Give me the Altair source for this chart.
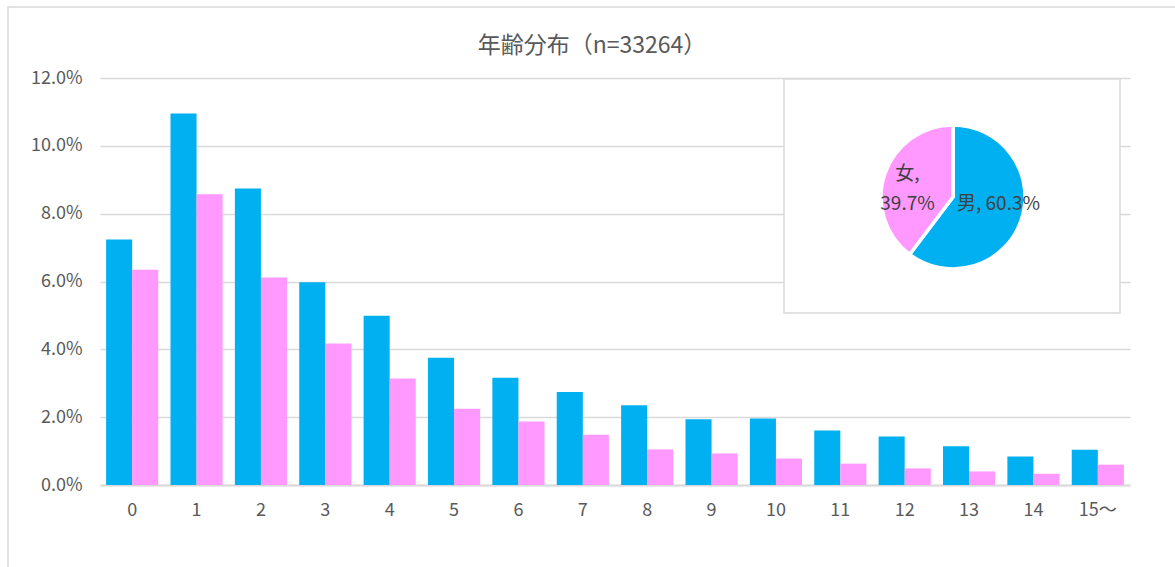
import altair as alt
import pandas as pd

# Age groups and share of cases by sex (fraction of all cases)
ages = ["0", "1", "2", "3", "4", "5", "6", "7", "8", "9",
        "10", "11", "12", "13", "14", "15～"]
male = [7.24, 10.95, 8.74, 5.98, 4.99, 3.75, 3.16, 2.74,
        2.35, 1.94, 1.96, 1.61, 1.43, 1.14, 0.84, 1.04]
female = [6.35, 8.57, 6.12, 4.17, 3.14, 2.25, 1.87, 1.48,
          1.05, 0.93, 0.78, 0.63, 0.49, 0.40, 0.33, 0.60]

sexes = ["男", "女"]
sex_share = [60.3, 39.7]
sex_labels = ["男, 60.3%", "女,\n39.7%"]
colors = ["#00B0F0", "#FF99FF"]
title_text = "年齢分布（n=33264）"

FONT = "Noto Sans CJK JP"
W, H = 1030, 407

bars_df = pd.DataFrame(
    [{"年齢": a, "性別": "男", "割合": v / 100} for a, v in zip(ages, male)]
    + [{"年齢": a, "性別": "女", "割合": v / 100} for a, v in zip(ages, female)]
)
pie_df = pd.DataFrame({
    "性別": sexes,
    "share": sex_share,
    "label": sex_labels,
    "order": [0, 1],
})
one = pd.DataFrame({"title": [title_text]})

color = alt.Color(
    "性別:N",
    scale=alt.Scale(domain=sexes, range=colors),
    legend=None,
)

# Outer chart frame
frame = alt.Chart(one).mark_rect(
    fill="transparent", stroke="#d9d9d9", strokeWidth=1.5
).encode(
    x=alt.value(-92), x2=alt.value(W + 60),
    y=alt.value(-71), y2=alt.value(H + 100),
)

title = alt.Chart(one).mark_text(
    fontSize=23, color="#595959", font=FONT, baseline="middle", align="center"
).encode(
    text="title:N",
    x=alt.value(492), y=alt.value(-32),
)

bars = alt.Chart(bars_df).mark_bar().encode(
    x=alt.X(
        "年齢:N", sort=ages, title=None,
        scale=alt.Scale(paddingInner=0.19, paddingOuter=0.095),
        axis=alt.Axis(
            labelAngle=0, ticks=False, labelPadding=16,
            domainColor="#d9d9d9", domainWidth=2,
            labelFontSize=18, labelColor="#595959", grid=False,
        ),
    ),
    xOffset=alt.XOffset("性別:N", sort=sexes),
    y=alt.Y(
        "割合:Q", title=None,
        scale=alt.Scale(domain=[0, 0.12], nice=False),
        axis=alt.Axis(
            format=".1%", values=[0, 0.02, 0.04, 0.06, 0.08, 0.10, 0.12],
            domain=False, ticks=False, labelPadding=18,
            gridColor="#d9d9d9", gridWidth=1.5,
            labelFontSize=18, labelColor="#595959",
        ),
    ),
    color=color,
)

# Inset panel for the sex breakdown
box = alt.Chart(one).mark_rect(
    fill="white", stroke="#d9d9d9", strokeWidth=1.5
).encode(
    x=alt.value(684), x2=alt.value(1020),
    y=alt.value(1), y2=alt.value(235),
)

pie = alt.Chart(pie_df).mark_arc(
    outerRadius=72, stroke="white", strokeWidth=3.5
).encode(
    theta=alt.Theta("share:Q", stack=True),
    color=color,
    order=alt.Order("order:Q"),
    x=alt.value(853), y=alt.value(119),
)

pie_text = alt.Chart(pie_df).mark_text(
    radius=48, dy=-8, fontSize=19, color="#404040", lineBreak="\n",
    font=FONT, lineHeight=30,
).encode(
    theta=alt.Theta("share:Q", stack=True),
    detail="性別:N",
    order=alt.Order("order:Q"),
    text="label:N",
    x=alt.value(853), y=alt.value(119),
)

chart = alt.layer(frame, title, bars, box, pie, pie_text).properties(
    width=W, height=H,
    autosize="none",
    padding={"left": 100, "top": 78, "right": 45, "bottom": 82},
).configure(
    font=FONT,
).configure_view(
    stroke=None,
).configure_axis(
    labelFont=FONT,
)

chart.save("out.html", embed_options={"renderer": "svg", "actions": False})
